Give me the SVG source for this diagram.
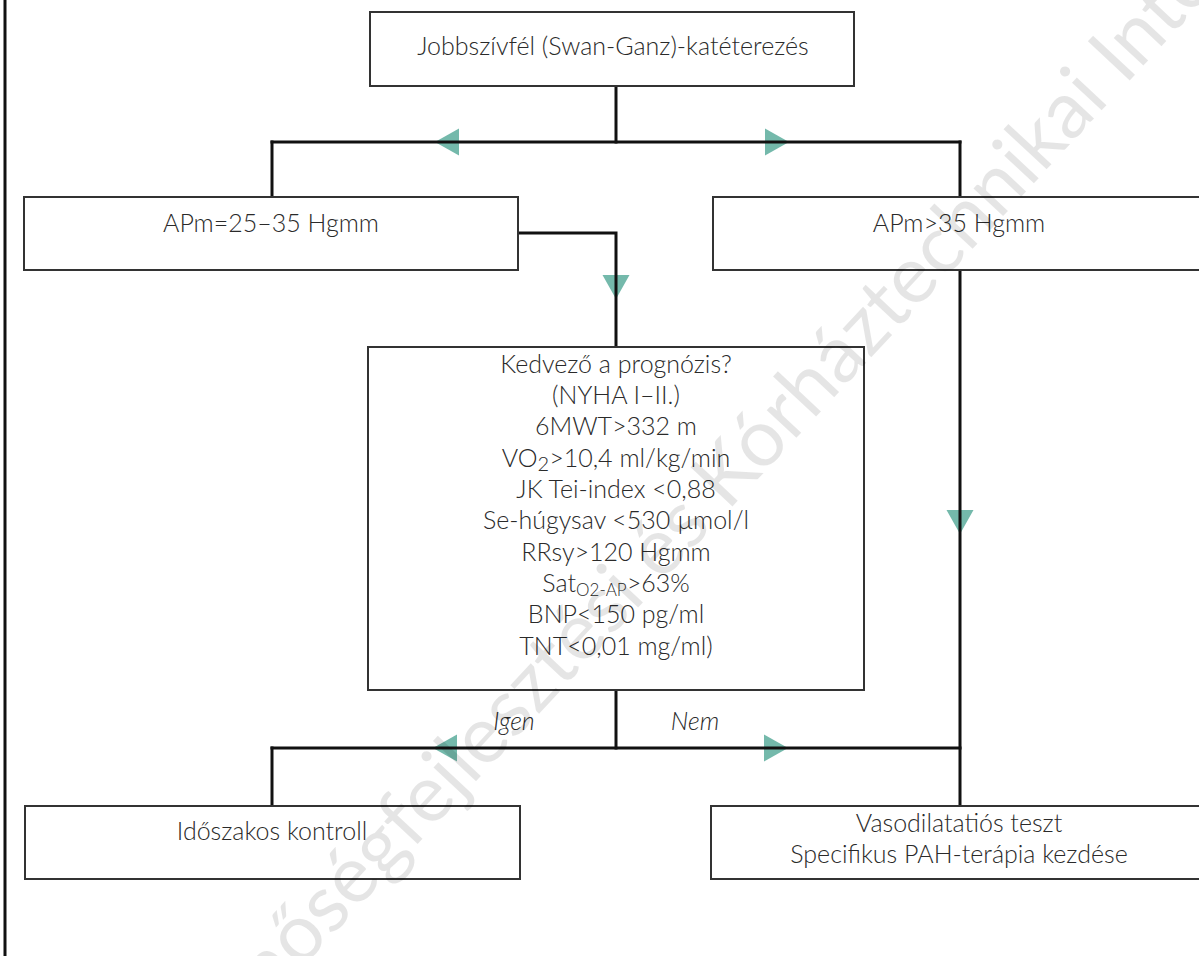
<svg xmlns="http://www.w3.org/2000/svg" xmlns:xlink="http://www.w3.org/1999/xlink" width="1199" height="956" viewBox="0 0 1199 956">
  <style>
    .box { fill: #ffffff; stroke: #333333; stroke-width: 2; }
    .conn { fill: none; stroke: #111111; stroke-width: 3; stroke-linecap: square; }
    .arr { fill: #74b9ab; }
    text { font-family: Lato, "Open Sans", "DejaVu Sans", sans-serif; font-weight: 300; font-size: 25px; fill: #2a2a2a; }
    .c { text-anchor: middle; }
    .it { font-style: italic; }
    .sub { font-size: 17px; }
    .wm { font-size: 80px; fill: #000000; fill-opacity: 0.1; font-weight: 400; }
  </style>
  <defs>
    <!-- flow arrowhead, pointing right; rotated per use -->
    <path id="tri" d="M -12 -13.5 L 12 0 L -12 13.5 Z"/>
  </defs>

  <rect width="1199" height="956" fill="#ffffff"/>

  <!-- frame line on the left edge -->
  <line x1="5" y1="0" x2="5" y2="956" stroke="#111111" stroke-width="3"/>

  <!-- direction markers -->
  <g id="arrowheads" class="arr">
    <use xlink:href="#tri" transform="translate(447,142) rotate(180)"/>
    <use xlink:href="#tri" transform="translate(777,142)"/>
    <use xlink:href="#tri" transform="translate(616,287) rotate(90)"/>
    <use xlink:href="#tri" transform="translate(960,522) rotate(90)"/>
    <use xlink:href="#tri" transform="translate(445,748) rotate(180)"/>
    <use xlink:href="#tri" transform="translate(776,748)"/>
  </g>

  <!-- connectors -->
  <g id="connectors" class="conn">
    <path d="M616 86 V142"/>
    <path d="M272 142 H960"/>
    <path d="M272 142 V197"/>
    <path d="M960 142 V197"/>
    <path d="M518 233 H616 V347"/>
    <path d="M616 690 V748"/>
    <path d="M272 748 H960"/>
    <path d="M272 748 V806"/>
    <path d="M960 270 V806"/>
  </g>

  <g id="node-rhc">
    <rect class="box" x="370" y="12" width="484" height="74"/>
    <text class="c" x="613" y="55">Jobbszívfél (Swan-Ganz)-katéterezés</text>
  </g>

  <g id="node-apm-25-35">
    <rect class="box" x="24" y="197" width="494" height="73"/>
    <text class="c" x="271" y="232">APm=25–35 Hgmm</text>
  </g>

  <g id="node-apm-35">
    <rect class="box" x="713" y="197" width="500" height="73"/>
    <text class="c" x="959" y="232">APm&gt;35 Hgmm</text>
  </g>

  <g id="node-prognosis">
    <rect class="box" x="368" y="347" width="496" height="343"/>
    <text class="c" x="616" y="373">Kedvező a prognózis?</text>
    <text class="c" x="616" y="404">(NYHA I–II.)</text>
    <text class="c" x="616" y="435">6MWT&gt;332 m</text>
    <text class="c" x="616" y="467">VO<tspan font-size="20px" dy="4">2</tspan><tspan dy="-4">&gt;10,4 ml/kg/min</tspan></text>
    <text class="c" x="616" y="498">JK Tei-index &lt;0,88</text>
    <text class="c" x="616" y="529">Se-húgysav &lt;530 µmol/l</text>
    <text class="c" x="616" y="561">RRsy&gt;120 Hgmm</text>
    <text class="c" x="616" y="592">Sat<tspan class="sub" dy="4">O2-AP</tspan><tspan dy="-4">&gt;63%</tspan></text>
    <text class="c" x="616" y="623">BNP&lt;150 pg/ml</text>
    <text class="c" x="616" y="655">TNT&lt;0,01 mg/ml)</text>
  </g>

  <g id="labels">
    <text class="c it" x="514" y="730">Igen</text>
    <text class="c it" x="695" y="730">Nem</text>
  </g>

  <g id="node-control">
    <rect class="box" x="25" y="806" width="495" height="73"/>
    <text class="c" x="272" y="840">Időszakos kontroll</text>
  </g>

  <g id="node-therapy">
    <rect class="box" x="711" y="806" width="500" height="73"/>
    <text class="c" x="959" y="832">Vasodilatatiós teszt</text>
    <text class="c" x="959" y="863">Specifikus PAH-terápia kezdése</text>
  </g>

  <!-- diagonal watermark -->
  <g transform="translate(412,850) rotate(-47)">
    <text class="wm" text-anchor="end">Minőség</text>
    <text class="wm">fejlesztési és Kórháztechnikai Intézet</text>
  </g>
</svg>
